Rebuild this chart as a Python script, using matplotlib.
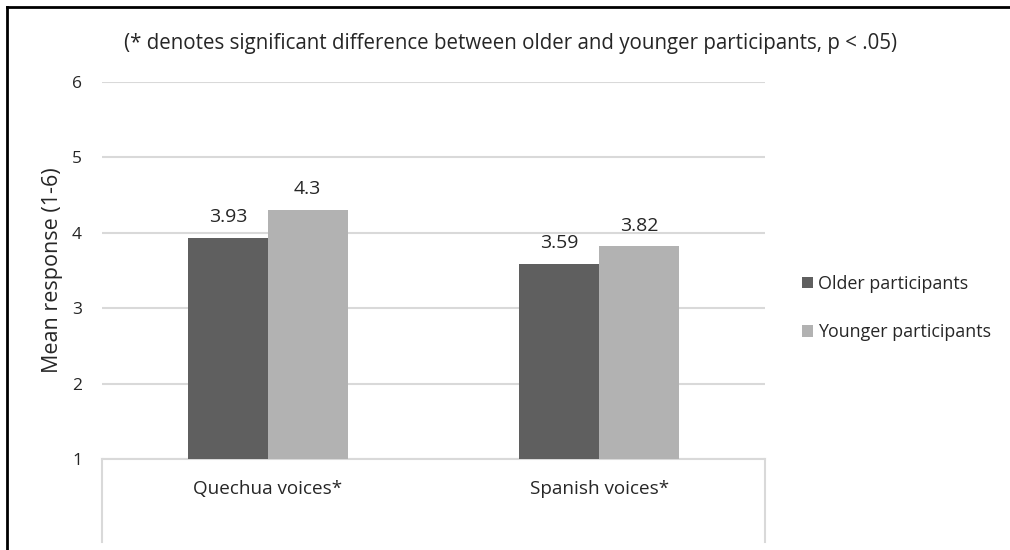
import matplotlib
matplotlib.use("Agg")
import matplotlib.pyplot as plt
import numpy as np
from matplotlib.lines import Line2D

categories = ["Quechua voices*", "Spanish voices*"]
series_names = ["Older participants", "Younger participants"]
older = [3.93, 3.59]
younger = [4.30, 3.82]
older_labels = ["3.93", "3.59"]
younger_labels = ["4.3", "3.82"]
yticks = [1, 2, 3, 4, 5, 6]
note = "(* denotes significant difference between older and younger participants, p < .05)"

plt.rcParams['font.family'] = ['Open Sans', 'DejaVu Sans']
txt = '#262626'
W, H = 1010, 550
fig = plt.figure(figsize=(W/100, H/100), dpi=100)
fig.patch.set_facecolor('white')

# plot area in pixels: x 102..765, y 82..459
ax = fig.add_axes([102/W, 1-459/H, (765-102)/W, (459-82)/H])
x = np.arange(len(categories))
bw = 0.241
dark, light = '#5f5f5f', '#b2b2b2'
ax.bar(x - bw/2, [v-1 for v in older], bw, bottom=1, color=dark, label=series_names[0], zorder=3)
ax.bar(x + bw/2, [v-1 for v in younger], bw, bottom=1, color=light, label=series_names[1], zorder=3)

for xi, v, s in zip(x - bw/2, older, older_labels):
    ax.annotate(s, (xi, v), xytext=(0, 15), textcoords='offset points', ha='center', va='center', fontsize=14, color=txt)
for xi, v, s in zip(x + bw/2, younger, younger_labels):
    ax.annotate(s, (xi, v), xytext=(0, 15), textcoords='offset points', ha='center', va='center', fontsize=14, color=txt)

ax.set_xlim(-0.5, 1.5)
ax.set_ylim(1, 6)
ax.set_yticks(yticks)
ax.set_yticklabels([str(t) for t in yticks], fontsize=12.5, color=txt)
ax.tick_params(axis='y', length=0, pad=14.4)
ax.set_xticks([])
ax.yaxis.grid(True, color='#d9d9d9', linewidth=1.5, zorder=0)
for s in ['top', 'right', 'left']:
    ax.spines[s].set_visible(False)
ax.spines['bottom'].set_color('#d9d9d9')
ax.spines['bottom'].set_linewidth(1.5)

fig.text(53/W, 1-270/H, "Mean response (1-6)", rotation=90, ha='center', va='center', fontsize=15.5, color=txt)

# category labels below the axis
for xi, c in zip(x, categories):
    ax.text(xi, -30/377, c, transform=ax.get_xaxis_transform(), ha='center', va='center', fontsize=13.6, color=txt)

# category box lines below the axis
for px in [102, 765]:
    fig.add_artist(Line2D([px/W, px/W], [1-459/H, 1-542/H], color='#d9d9d9', linewidth=1.5))

fig.text(510/W, 1-44/H, note, ha='center', va='center', fontsize=14.8, color=txt)

ax.legend(loc='center left', bbox_to_anchor=(802/W, 1-308/H), bbox_transform=fig.transFigure,
          frameon=False, fontsize=12.9, handlelength=0.61, handleheight=0.61, handletextpad=0.3,
          labelspacing=1.7, borderpad=0, borderaxespad=0, labelcolor=txt)

# outer frame (top and left)
fig.add_artist(Line2D([7/W, 1], [1-7/H, 1-7/H], color='black', linewidth=2))
fig.add_artist(Line2D([7/W, 7/W], [0, 1-7/H], color='black', linewidth=2))

fig.savefig("out.png", dpi=100)
